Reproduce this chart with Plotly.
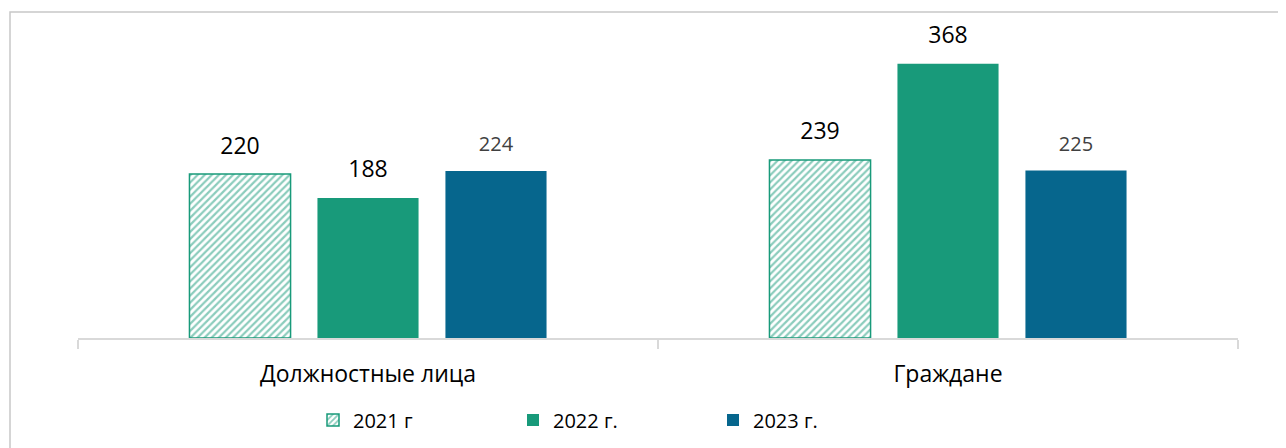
import plotly.graph_objects as go

categories = ["Должностные лица", "Граждане"]
years = ["2021 г", "2022 г.", "2023 г."]
values_2021 = [220, 239]
values_2022 = [188, 368]
values_2023 = [224, 225]

GREEN = "#189A7A"
BLUE = "#06668D"
FONT = "Open Sans"

# the page body adds an 8px margin, so the figure is drawn 8px in
OFF = 8
W, H = 1286 - OFF, 448 - OFF
L, R, T, B = 78 - OFF, 48, 40 - OFF, 110
PW, PH = W - L - R, H - T - B

fig = go.Figure()

# 2021 - hatched bars
fig.add_trace(go.Bar(
    name=years[0], x=categories, y=values_2021, offsetgroup="a",
    marker=dict(color="white", line=dict(color=GREEN, width=1.5),
                pattern=dict(shape="/", fgcolor=GREEN, bgcolor="white",
                             size=5, solidity=0.45)),
))
fig.add_trace(go.Bar(
    name=years[1], x=categories, y=values_2022, offsetgroup="b",
    marker=dict(color=GREEN, line=dict(width=0)),
))
fig.add_trace(go.Bar(
    name=years[2], x=categories, y=values_2023, offsetgroup="c",
    marker=dict(color=BLUE, line=dict(width=0)),
))

# value labels, aligned with the bars through offsetgroup
label_styles = [
    (values_2021, "a", "black", 23),
    (values_2022, "b", "black", 23),
    (values_2023, "c", "#404040", 20),
]
for vals, grp, col, size in label_styles:
    fig.add_trace(go.Scatter(
        x=categories, y=vals, offsetgroup=grp, mode="markers+text",
        text=[str(v) for v in vals], textposition="top center",
        textfont=dict(family=FONT, size=size, color=col),
        marker=dict(size=22, opacity=0), showlegend=False, hoverinfo="skip",
        cliponaxis=False,
    ))

# outer frame of the chart (page x=10, y=12)
fig.add_shape(
    type="rect", xref="paper", yref="paper",
    x0=(10 - OFF - L) / PW, x1=(W + 20 - L) / PW,
    y0=-0.6, y1=(H - B - (12 - OFF)) / PH,
    line=dict(color="#C8C8C8", width=1.5), fillcolor="rgba(0,0,0,0)",
)

fig.update_layout(
    width=W, height=H,
    margin=dict(l=L, r=R, t=T, b=B, autoexpand=False),
    paper_bgcolor="white", plot_bgcolor="white",
    barmode="group", scattermode="group",
    bargap=0.338, bargroupgap=0.21,
    font=dict(family=FONT, size=23, color="black"),
    showlegend=True,
    legend=dict(orientation="h", x=(313 - OFF - L) / PW, xanchor="left",
                y=-0.275, yanchor="middle", font=dict(size=20),
                entrywidth=155, entrywidthmode="pixels",
                itemclick=False, traceorder="normal"),
    xaxis=dict(showline=True, linecolor="#D9D9D9", linewidth=1.5,
               ticks="outside", tickson="boundaries", ticklen=9,
               tickcolor="#D9D9D9", tickwidth=1.5,
               tickfont=dict(size=23, color="black"), ticklabelstandoff=15),
    yaxis=dict(range=[0, 400], visible=False, showgrid=False),
)

fig.write_html("out.html")
